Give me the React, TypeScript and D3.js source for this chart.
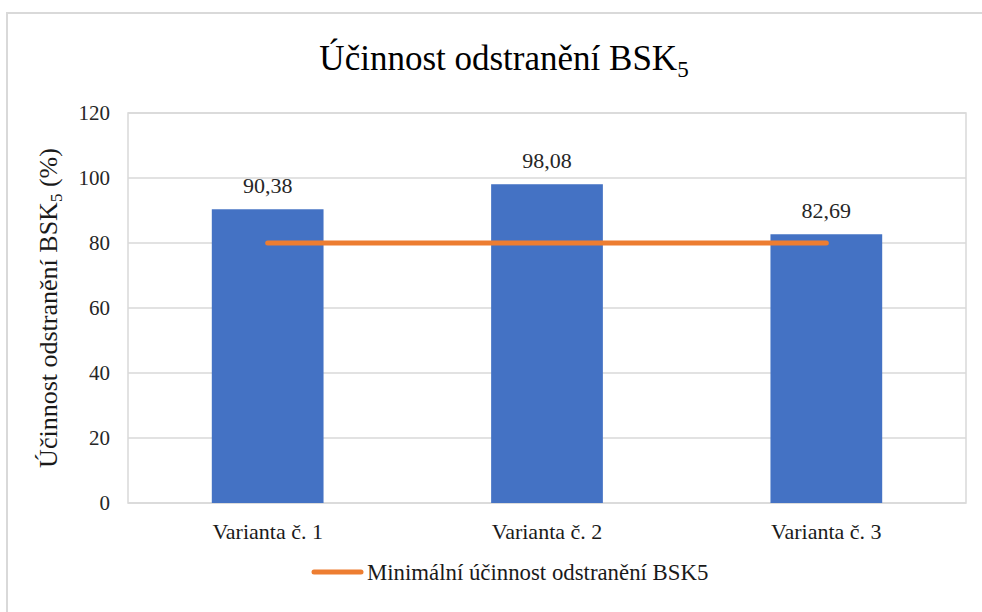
import React from "react";
import { scaleBand, scaleLinear, line } from "d3";

const categories = ["Varianta č. 1", "Varianta č. 2", "Varianta č. 3"];
const efficiency = [90.38, 98.08, 82.69];
const minimumEfficiency = [80, 80, 80];
const yTicks = [0, 20, 40, 60, 80, 100, 120];
const legendLabel = "Minimální účinnost odstranění BSK5";

const fmt = (v: number) => v.toFixed(2).replace(".", ",");

export default function App() {
  const width = 982;
  const height = 612;
  const plot = { left: 128, right: 966, top: 113, bottom: 503 };
  const font = "Liberation Serif, DejaVu Serif, serif";

  const xScale = scaleBand<string>()
    .domain(categories)
    .range([plot.left, plot.right])
    .paddingInner(0.6)
    .paddingOuter(0.3);

  const yScale = scaleLinear().domain([0, 120]).range([plot.bottom, plot.top]);

  const center = (c: string) => (xScale(c) as number) + xScale.bandwidth() / 2;

  const minLine = line<number>()
    .x((_, i) => center(categories[i]))
    .y((d) => yScale(d));

  return (
    <svg
      width={width}
      height={height}
      style={{ position: "absolute", left: 0, top: 0, background: "#fff", fontFamily: font }}
    >
      {/* outer chart frame */}
      <rect x={7} y={13} width={1000} height={620} fill="#fff" stroke="#d9d9d9" strokeWidth={2} />

      {/* title */}
      <text x={504} y={70} textAnchor="middle" fontSize={35} fill="#000">
        Účinnost odstranění BSK
        <tspan fontSize={23} dy={7}>5</tspan>
      </text>

      {/* gridlines */}
      {yTicks.map((t) => (
        <line
          key={t}
          x1={plot.left}
          x2={plot.right}
          y1={yScale(t)}
          y2={yScale(t)}
          stroke="#d9d9d9"
          strokeWidth={1.5}
        />
      ))}
      <rect
        x={plot.left}
        y={plot.top}
        width={plot.right - plot.left}
        height={plot.bottom - plot.top}
        fill="none"
        stroke="#d9d9d9"
        strokeWidth={1.5}
      />

      {/* y tick labels */}
      {yTicks.map((t) => (
        <text key={t} x={110} y={yScale(t)} dy="0.35em" textAnchor="end" fontSize={21} fill="#262626">
          {t}
        </text>
      ))}

      {/* y axis label */}
      <text
        transform={`translate(57,${(plot.top + plot.bottom) / 2}) rotate(-90)`}
        textAnchor="middle"
        fontSize={26}
        fill="#1a1a1a"
      >
        Účinnost odstranění BSK
        <tspan fontSize={17} dy={5}>5</tspan>
        <tspan dy={-5}> (%)</tspan>
      </text>

      {/* bars */}
      {categories.map((c, i) => (
        <rect
          key={c}
          x={xScale(c)}
          y={yScale(efficiency[i])}
          width={xScale.bandwidth()}
          height={yScale(0) - yScale(efficiency[i])}
          fill="#4472C4"
        />
      ))}

      {/* data labels */}
      {categories.map((c, i) => (
        <text
          key={c}
          x={center(c)}
          y={yScale(efficiency[i]) - 16}
          textAnchor="middle"
          fontSize={22}
          fill="#262626"
        >
          {fmt(efficiency[i])}
        </text>
      ))}

      {/* minimum line */}
      <path
        d={minLine(minimumEfficiency) || ""}
        fill="none"
        stroke="#ED7D31"
        strokeWidth={5}
        strokeLinecap="round"
      />

      {/* x labels */}
      {categories.map((c) => (
        <text key={c} x={center(c)} y={539} textAnchor="middle" fontSize={22} fill="#1a1a1a">
          {c}
        </text>
      ))}

      {/* legend */}
      <line x1={314} x2={361} y1={572} y2={572} stroke="#ED7D31" strokeWidth={5} strokeLinecap="round" />
      <text x={367} y={580} fontSize={22.8} fill="#1a1a1a">
        {legendLabel}
      </text>
    </svg>
  );
}
